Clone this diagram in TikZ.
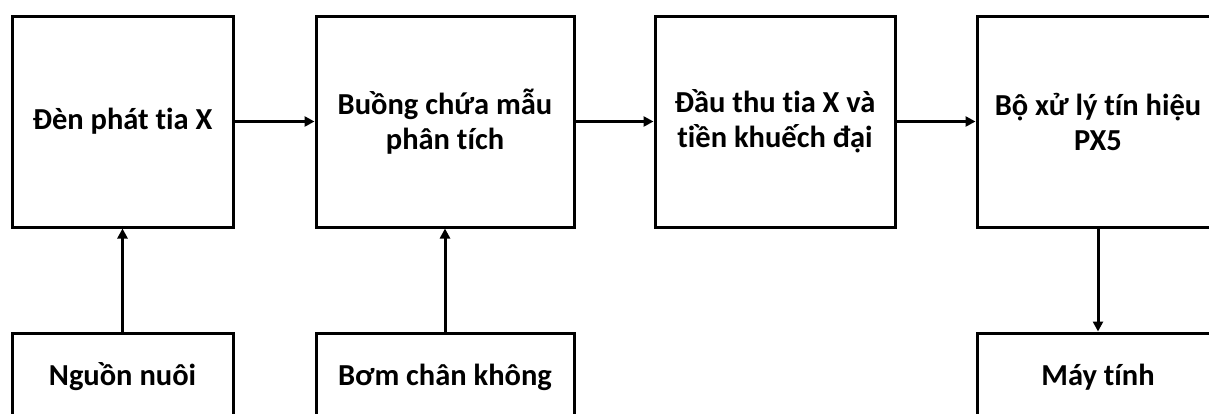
\documentclass[tikz,border=0pt]{standalone}
\usepackage{fontspec}
\setmainfont{Carlito}[Ligatures=NoCommon]
\usetikzlibrary{arrows.meta}
\begin{document}
\begin{tikzpicture}[x=1pt,y=-1pt,
  blk/.style={draw=black,line width=3pt,rectangle,inner sep=0pt,align=center,
    font=\fontsize{30.5}{35}\selectfont\bfseries,text=black},
  conn/.style={line width=3pt,-{Triangle[length=10pt,width=10pt]}}]
\useasboundingbox (0,0) rectangle (1209,413);
\clip (0,0) rectangle (1209,413);
\fill[white] (0,0) rectangle (1209,413);
\node[blk,minimum width=221pt,minimum height=211pt] (den) at (122.5,121.5) {Đèn phát tia X};
\node[blk,minimum width=258pt,minimum height=211pt] (buong) at (445,121.5) {Buồng chứa mẫu\\phân tích};
\node[blk,minimum width=240pt,minimum height=211pt] (dau) at (775,121.5) {Đầu thu tia X và\\tiền khuếch đại};
\node[blk,minimum width=242pt,minimum height=211pt] (bo) at (1098,121.5) {Bộ xử lý tín hiệu\\PX5};
\node[blk,minimum width=221pt,minimum height=88pt] (nguon) at (122.5,377) {Nguồn nuôi};
\node[blk,minimum width=258pt,minimum height=88pt] (bom) at (445,377) {Bơm chân không};
\node[blk,minimum width=242pt,minimum height=88pt] (may) at (1098,377) {Máy tính};
\draw[conn] (den) -- (buong);
\draw[conn] (buong) -- (dau);
\draw[conn] (dau) -- (bo);
\draw[conn] (nguon) -- (den);
\draw[conn] (bom) -- (buong);
\draw[conn] (bo) -- (may);
\end{tikzpicture}
\end{document}
